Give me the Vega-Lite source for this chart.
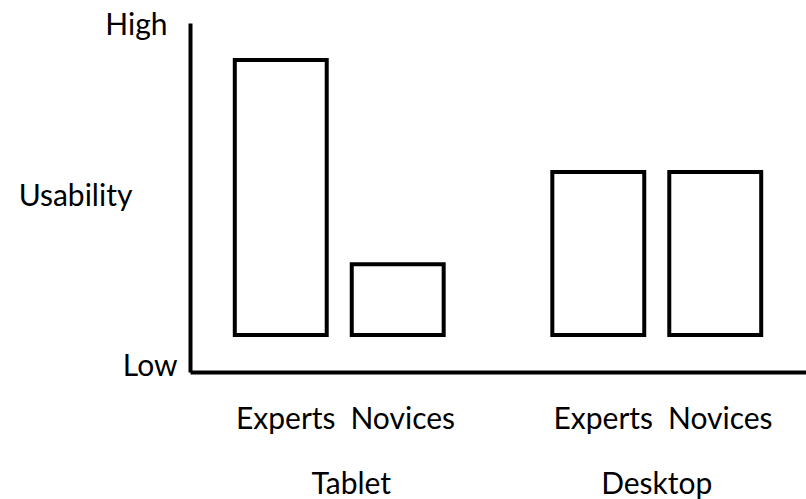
{
  "$schema": "https://vega.github.io/schema/vega-lite/v6.json",
  "autosize": "none",
  "width": 616,
  "height": 349,
  "padding": {"left": 190, "top": 23, "right": 0, "bottom": 127},
  "background": "white",
  "config": {"view": {"stroke": null}, "font": "Lato"},
  "data": {"values": [
    {"device": "Tablet", "user": "Experts", "usability": 8.94},
    {"device": "Tablet", "user": "Novices", "usability": 3.09},
    {"device": "Desktop", "user": "Experts", "usability": 5.73},
    {"device": "Desktop", "user": "Novices", "usability": 5.73}
  ]},
  "encoding": {
    "x": {
      "field": "device", "type": "nominal", "sort": ["Tablet", "Desktop"],
      "scale": {"paddingInner": 0.06, "paddingOuter": 0},
      "axis": {
        "title": null, "domainColor": "black", "domainWidth": 4, "ticks": false, "tickSize": 0,
        "labelFont": "Lato", "labelFontSize": 30, "labelColor": "black", "labelAngle": 0,
        "labelBaseline": "alphabetic", "labelPadding": 121,
        "labelOffset": {"condition": {"test": "datum.value == 'Tablet'", "value": 12}, "value": 0}
      }
    },
    "xOffset": {
      "field": "user", "type": "nominal", "sort": ["Experts", "Novices"],
      "scale": {"paddingInner": 0.214, "paddingOuter": 0.383}
    }
  },
  "layer": [
    {
      "mark": {"type": "bar", "fill": "white", "stroke": "black", "strokeWidth": 4},
      "encoding": {
        "y": {
          "field": "usability", "type": "quantitative", "title": "Usability",
          "scale": {"domain": [0, 10], "nice": false, "zero": false},
          "axis": {
            "title": "Usability", "titleAngle": 0, "titleAlign": "center", "titleBaseline": "middle",
            "titleX": -115, "titleY": 173, "titleFont": "Lato", "titleFontSize": 30,
            "titleFontWeight": "normal", "titleColor": "black",
            "values": [0, 10], "labelExpr": "datum.value == 10 ? 'High' : 'Low'",
            "ticks": false, "tickSize": 0, "grid": false, "labelFlush": false,
            "domainColor": "black", "domainWidth": 4,
            "labelFont": "Lato", "labelFontSize": 30, "labelColor": "black", "labelBaseline": "middle",
            "labelPadding": {"condition": {"test": "datum.value == 10", "value": 23}, "value": 13},
            "labelOffset": {"condition": {"test": "datum.value == 10", "value": 2}, "value": -6}
          }
        },
        "y2": {"datum": 1.06}
      }
    },
    {
      "mark": {"type": "text", "font": "Lato", "fontSize": 30, "baseline": "alphabetic", "align": "center", "color": "black", "dx": 5},
      "encoding": {
        "y": {"datum": -1.63, "type": "quantitative", "title": "Usability"},
        "text": {"field": "user"}
      }
    }
  ]
}
